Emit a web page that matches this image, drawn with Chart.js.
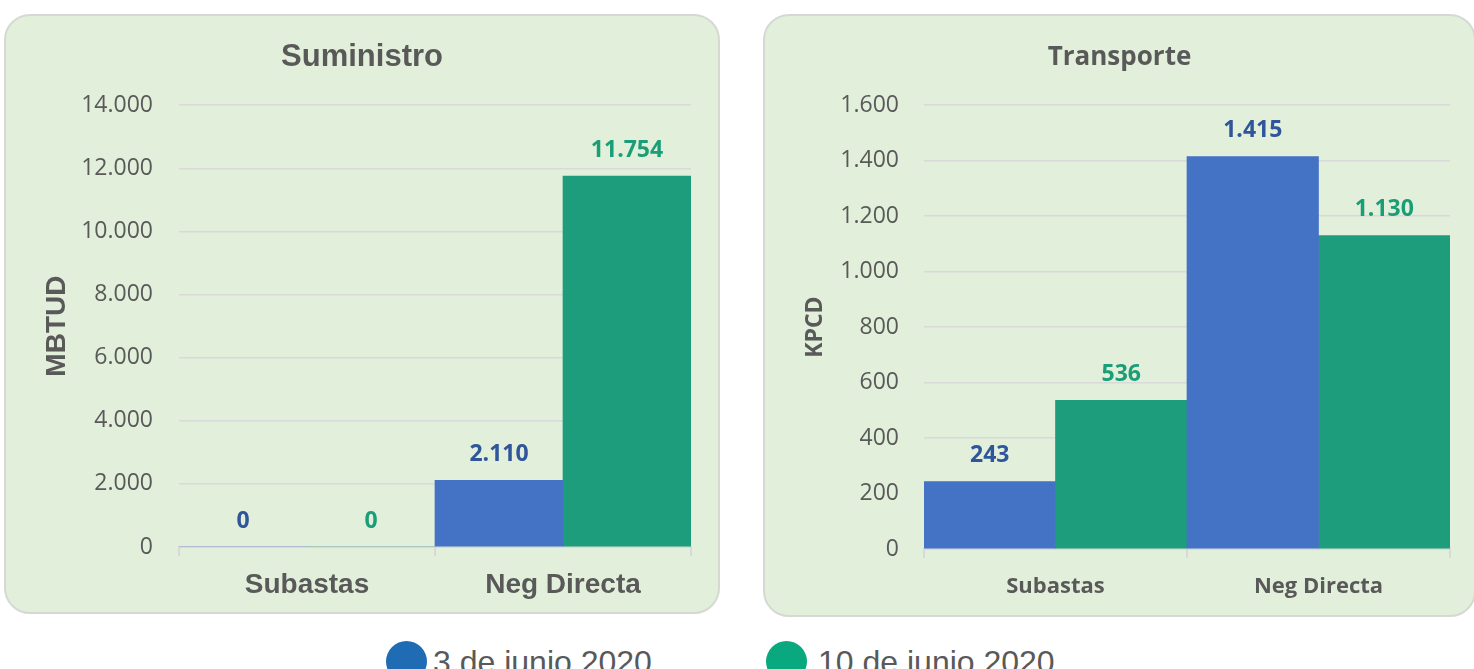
<!DOCTYPE html>
<html>
<head>
<meta charset="utf-8">
<script src="https://cdn.jsdelivr.net/npm/chart.js@4"></script>
<style>
  html, body { margin: 0; padding: 0; background: #ffffff; width: 1474px; height: 669px; overflow: hidden; position: relative; }
  .panel { position: absolute; box-sizing: border-box; background: #e2efda; border: 2px solid #d6d9d3; border-radius: 26px; }
  .wrap { position: absolute; }
  .dot { position: absolute; width: 41px; height: 41px; border-radius: 50%; }
  .leg { position: absolute; font-family: "Liberation Sans", Arial, sans-serif; font-size: 32px; line-height: 32px; color: #595959; white-space: nowrap; }
</style>
</head>
<body>
<div class="panel" style="left:4px; top:14px; width:716px; height:600px;"></div>
<div class="panel" style="left:763px; top:14px; width:713px; height:603px;"></div>
<div class="wrap" style="left:4px; top:14px; width:716px; height:600px;"><canvas id="sumChart"></canvas></div>
<div class="wrap" style="left:763px; top:14px; width:713px; height:603px;"><canvas id="traChart"></canvas></div>

<div class="dot" style="left:386px; top:641px; background:#1f6bb4;"></div>
<div class="leg" style="left:433px; top:646px;" id="leg1"></div>
<div class="dot" style="left:766px; top:641px; background:#0aa87f;"></div>
<div class="leg" style="left:818px; top:646px;" id="leg2"></div>

<script>
// ---------- data ----------
const categories = ['Subastas', 'Neg Directa'];
const seriesNames = ['3 de junio 2020', '10 de junio 2020'];

// Suministro (MBTUD)
const sumJun3 = [0, 2110];
const sumJun10 = [0, 11754];
const sumTicks = { max: 14000, step: 2000 };

// Transporte (KPCD)
const traJun3 = [243, 1415];
const traJun10 = [536, 1130];
const traTicks = { max: 1600, step: 200 };

// ---------- styles ----------
const barColors = ['#4472c4', '#1d9d7c'];
const labelColors = ['#2f559a', '#1a9e78'];
const textGray = '#595959';
const gridGray = '#d9d9d9';

document.getElementById('leg1').textContent = seriesNames[0];
document.getElementById('leg2').textContent = seriesNames[1];

Chart.defaults.color = textGray;

// value labels above each bar
const barLabels = {
  id: 'barLabels',
  afterDatasetsDraw(chart, args, opts) {
    const ctx = chart.ctx;
    ctx.save();
    ctx.font = opts.font;
    ctx.textAlign = 'center';
    ctx.textBaseline = 'middle';
    chart.data.datasets.forEach((ds, i) => {
      const meta = chart.getDatasetMeta(i);
      meta.data.forEach((bar, j) => {
        ctx.fillStyle = labelColors[i];
        ctx.fillText(new Intl.NumberFormat('de-DE').format(ds.data[j]), bar.x, bar.y - opts.offset);
      });
    });
    ctx.restore();
  }
};

function makeChart(id, cfg) {
  const ctx = document.getElementById(id).getContext('2d');
  return new Chart(ctx, {
    type: 'bar',
    data: {
      labels: categories,
      datasets: cfg.series.map((d, i) => ({
        label: seriesNames[i],
        data: d,
        backgroundColor: barColors[i],
        borderWidth: 0,
        categoryPercentage: 1,
        barPercentage: 1
      }))
    },
    plugins: [barLabels],
    options: {
      animation: false,
      responsive: true,
      maintainAspectRatio: false,
      locale: 'de-DE',
      // same padding both sides so the title stays centred in the panel
      layout: { padding: { left: cfg.padSide, right: cfg.padSide, top: 0, bottom: 0 } },
      events: [],
      plugins: {
        legend: { display: false },
        tooltip: { enabled: false },
        title: {
          display: true,
          text: cfg.title,
          color: textGray,
          font: cfg.titleFont,
          padding: cfg.titlePad
        },
        barLabels: { font: cfg.labelFont, offset: 26 }
      },
      scales: {
        x: {
          grid: { drawOnChartArea: false, drawTicks: true, tickLength: 9, color: gridGray, lineWidth: 2 },
          border: { display: true, color: gridGray, width: 2 },
          ticks: { color: textGray, font: cfg.xFont, padding: cfg.xPad },
          afterFit: (s) => { s.height = cfg.xHeight; }
        },
        y: {
          min: 0,
          max: cfg.ticks.max,
          ticks: { stepSize: cfg.ticks.step, color: textGray, font: { family: 'Open Sans', size: 23 }, padding: cfg.yPad },
          grid: { color: gridGray, lineWidth: 1.5, drawTicks: false },
          border: { display: false },
          title: { display: true, text: cfg.yTitle, color: textGray, font: cfg.yTitleFont, padding: { top: cfg.yTitleTop, bottom: 0 } },
          afterFit: (s) => { s.width = cfg.yWidth; }
        }
      }
    }
  });
}

makeChart('sumChart', {
  series: [sumJun3, sumJun10],
  ticks: sumTicks,
  title: 'Suministro',
  titleFont: { family: 'Liberation Sans', size: 31, weight: 'bold' },
  titlePad: { top: 25, bottom: 29 },
  labelFont: 'bold 23px "Open Sans"',
  xFont: { family: 'Liberation Sans', size: 28, weight: 'bold' },
  xPad: 12,
  xHeight: 67,
  yPad: 26,
  yWidth: 146,
  yTitle: 'MBTUD',
  yTitleFont: { family: 'Liberation Sans', size: 28, weight: 'bold' },
  yTitleTop: 7,
  padSide: 29
});

makeChart('traChart', {
  series: [traJun3, traJun10],
  ticks: traTicks,
  title: 'Transporte',
  titleFont: { family: 'Open Sans', size: 26, weight: 'bold' },
  titlePad: { top: 28, bottom: 32 },
  labelFont: 'bold 23px "Open Sans"',
  xFont: { family: 'Open Sans', size: 22, weight: 'bold' },
  xPad: 16,
  xHeight: 68,
  yPad: 25,
  yWidth: 135,
  yTitle: 'KPCD',
  yTitleFont: { family: 'Open Sans', size: 23, weight: 'bold' },
  yTitleTop: 13,
  padSide: 26
});
</script>
</body>
</html>
